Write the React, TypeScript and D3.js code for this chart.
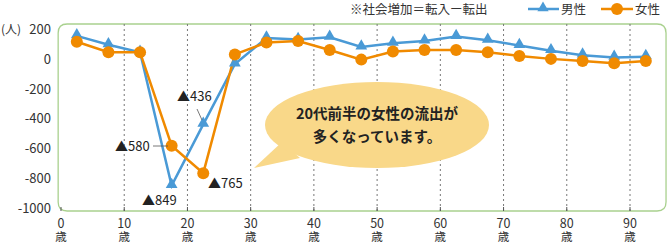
import React from "react";
import * as d3 from "d3";

const ages = [2.5, 7.5, 12.5, 17.5, 22.5, 27.5, 32.5, 37.5, 42.5, 47.5, 52.5, 57.5, 62.5, 67.5, 72.5, 77.5, 82.5, 87.5, 92.5];
const male = [160, 100, 50, -849, -436, -30, 145, 135, 150, 85, 110, 125, 155, 130, 95, 60, 30, 15, 20];
const female = [120, 50, 50, -580, -765, 35, 115, 125, 65, 0, 55, 65, 65, 50, 25, 5, -10, -25, -10];
const yTicks = [200, 0, -200, -400, -600, -800, -1000];
const xTicks = [0, 10, 20, 30, 40, 50, 60, 70, 80, 90];
const gridTicks = [10, 20, 30, 40, 50, 60, 70, 80, 90];

const BLUE = "#4a9ad6";
const ORANGE = "#f08a00";
const FONT = "'Noto Sans CJK JP', 'Noto Sans', sans-serif";

export default function App() {
  const W = 669, H = 242;
  const x = d3.scaleLinear().domain([0, 90]).range([61, 630]);
  const y = d3.scaleLinear().domain([-1020, 240]).range([211, 24]);
  const left = x(-0.45), right = x(95.7), top = y(240), bottom = y(-1020);
  const line = d3.line<number>().x((_, i) => x(ages[i])).y((d) => y(d));
  const tri = d3.symbol().type(d3.symbolTriangle).size(60)();
  const triSmall = d3.symbol().type(d3.symbolTriangle).size(55)();
  const r = 9;
  const framePath = `M${left},${top + r} Q${left},${top} ${left + r},${top} L${right - r},${top} Q${right},${top} ${right},${top + r} L${right},${bottom - r} Q${right},${bottom} ${right - r},${bottom} L${left + r},${bottom} Q${left},${bottom} ${left},${bottom - r} Z`;

  const ann = (label: string, tx: number, ty: number) => (
    <text x={tx} y={ty + 5} fontSize={13} fill="#222" fontFamily={FONT}>
      <tspan>▲</tspan>
      <tspan>{label}</tspan>
    </text>
  );

  return (
    <svg width={W} height={H} style={{ position: "absolute", left: 0, top: 0 }} fontFamily={FONT}>
      <rect width={W} height={H} fill="#fff" />
      <path d={framePath} fill="#fff" stroke="#a9d18e" strokeWidth={1.3} />
      {gridTicks.map((t) => (
        <line key={t} x1={x(t)} x2={x(t)} y1={top} y2={bottom} stroke="#777" strokeWidth={1} strokeDasharray="2,3" />
      ))}
      {xTicks.map((t) => (
        <g key={t}>
          <line x1={x(t)} x2={x(t)} y1={bottom - 4} y2={bottom} stroke="#555" strokeWidth={1} />
          <text textAnchor="middle" fill="#333">
            <tspan x={x(t)} y={227.5} fontSize={12.5}>{t}</tspan>
            <tspan x={x(t)} y={240.5} fontSize={11.5}>歳</tspan>
          </text>
        </g>
      ))}
      {yTicks.map((t) => (
        <text key={t} x={51} y={y(t) + 4.5} textAnchor="end" fontSize={13} fill="#333">{t}</text>
      ))}
      <text x={1} y={y(200) + 4.5} fontSize={12} fill="#333">(人)</text>

      {/* speech bubble */}
      <path
        d={`M${300},${158} L${254},${168} L${282},${142} Z`}
        fill="#f9d889"
      />
      <ellipse cx={377} cy={125} rx={112} ry={43} fill="#f9d889" />
      <text x={377} y={119} textAnchor="middle" fontSize={14.5} fontWeight="bold" fill="#222">20代前半の女性の流出が</text>
      <text x={377} y={142} textAnchor="middle" fontSize={14.5} fontWeight="bold" fill="#222">多くなっています。</text>

      {/* lines */}
      <path d={line(male) || ""} fill="none" stroke={BLUE} strokeWidth={2.5} />
      <path d={line(female) || ""} fill="none" stroke={ORANGE} strokeWidth={2.5} />
      {male.map((v, i) => (
        <path key={"m" + i} d={tri || ""} transform={`translate(${x(ages[i])},${y(v) - 1})`} fill={BLUE} />
      ))}
      {female.map((v, i) => (
        <circle key={"f" + i} cx={x(ages[i])} cy={y(female[i])} r={6} fill={ORANGE} />
      ))}

      {/* annotations */}
      <line x1={197} y1={109} x2={202} y2={120} stroke="#555" strokeWidth={0.8} />
      <line x1={153} y1={146} x2={168} y2={146} stroke="#555" strokeWidth={0.8} />
      {ann("436", 177, 96)}
      {ann("580", 115, 146)}
      {ann("849", 142, 200)}
      {ann("765", 208, 183)}

      {/* legend */}
      <text x={350} y={14} fontSize={12.5} fill="#333">※社会増加＝転入ー転出</text>
      <line x1={528} x2={559} y1={9} y2={9} stroke={BLUE} strokeWidth={2.5} />
      <path d={triSmall || ""} transform={`translate(543,8)`} fill={BLUE} />
      <text x={561} y={14} fontSize={12.5} fill="#333">男性</text>
      <line x1={601} x2={633} y1={9} y2={9} stroke={ORANGE} strokeWidth={2.5} />
      <circle cx={617} cy={9} r={6} fill={ORANGE} />
      <text x={635} y={14} fontSize={12.5} fill="#333">女性</text>
    </svg>
  );
}
